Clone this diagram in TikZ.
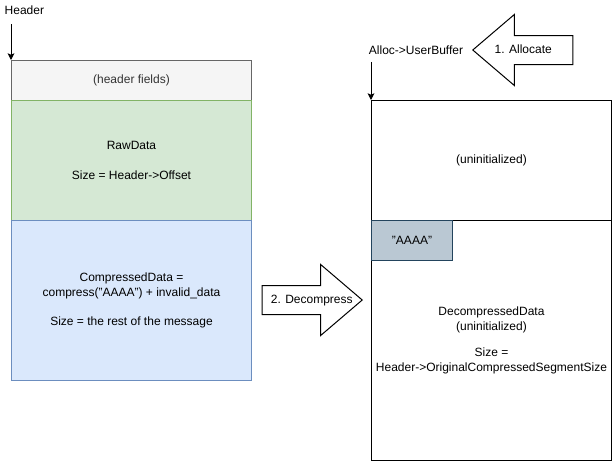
\documentclass[tikz,border=0pt]{standalone}
\usepackage{fontspec}
\setmainfont{Liberation Sans}
\usetikzlibrary{positioning,arrows.meta,shapes.arrows}

\definecolor{hdrfill}{HTML}{F5F5F5}
\definecolor{hdrline}{HTML}{666666}
\definecolor{hdrtext}{HTML}{333333}
\definecolor{rawfill}{HTML}{D5E8D4}
\definecolor{rawline}{HTML}{82B366}
\definecolor{cmpfill}{HTML}{DAE8FC}
\definecolor{cmpline}{HTML}{6C8EBF}
\definecolor{aaafill}{HTML}{BAC8D3}
\definecolor{aaaline}{HTML}{23445D}

% zero-width label, moved sideways by #1
\newcommand{\steptext}[2]{\makebox[0pt]{\kern#1#2\kern-#1}}

\begin{document}
\begin{tikzpicture}[
  x=0.75pt, y=-0.75pt,
  font=\fontsize{9}{11.25}\selectfont,
  field/.style={draw, line width=0.75pt, align=center, inner sep=0pt,
    minimum width=180pt, anchor=north west},
  hdrfield/.style={field, fill=hdrfill, draw=hdrline, text=hdrtext, minimum height=30pt},
  rawfield/.style={field, fill=rawfill, draw=rawline, minimum height=90pt},
  cmpfield/.style={field, fill=cmpfill, draw=cmpline, minimum height=120pt},
  bufpart/.style={field, fill=white},
  blockarrow/.style={single arrow, draw, line width=0.75pt, fill=white,
    minimum height=75pt, minimum width=52.5pt, text height=6.5pt, text depth=1.5pt,
    inner ysep=6.5pt, inner xsep=3pt, single arrow head extend=15.75pt,
    single arrow tip angle=81, anchor=tip},
  ptr/.style={-{Stealth[length=5pt,width=5pt,inset=1pt]}, line width=0.75pt}
]
\useasboundingbox (0,0) rectangle (612,461);

% message layout
\node[anchor=west] (hdrlabel) at (0,10) {Header};
\node[hdrfield] (hdr) at (11,60) {(header fields)};
\node[rawfield] (raw) at (11,100) {RawData\\[11pt]Size = Header->Offset};
\node[cmpfield] (cmp) at (11,220) {CompressedData =\\compress("AAAA") + invalid\_data\\[11pt]Size = the rest of the message};

% user buffer
\node (alloclabel) at (416,50) {Alloc->UserBuffer};
\node[bufpart, minimum height=90pt] (uninit) at (371,100) {(uninitialized)};
\node[bufpart, minimum height=180pt] (decomp) at (371,220) {DecompressedData\\(uninitialized)\\[8pt]Size =\\Header->OriginalCompressedSegmentSize};
\node[field, fill=aaafill, draw=aaaline, minimum width=60.75pt, minimum height=30pt] (aaaa) at (371,220) {"AAAA"};

% steps
\node[blockarrow, shape border rotate=180] (allocate) at (472,50) {\steptext{-6pt}{1. Allocate}};
\node[blockarrow] (decompress) at (363,300) {\steptext{6pt}{2. Decompress}};

\draw[ptr] ([yshift=-4pt]hdrlabel.south -| hdr.north west) -- (hdr.north west);
\draw[ptr] ([yshift=-2pt]alloclabel.south -| uninit.north west) -- (uninit.north west);

\end{tikzpicture}
\end{document}
